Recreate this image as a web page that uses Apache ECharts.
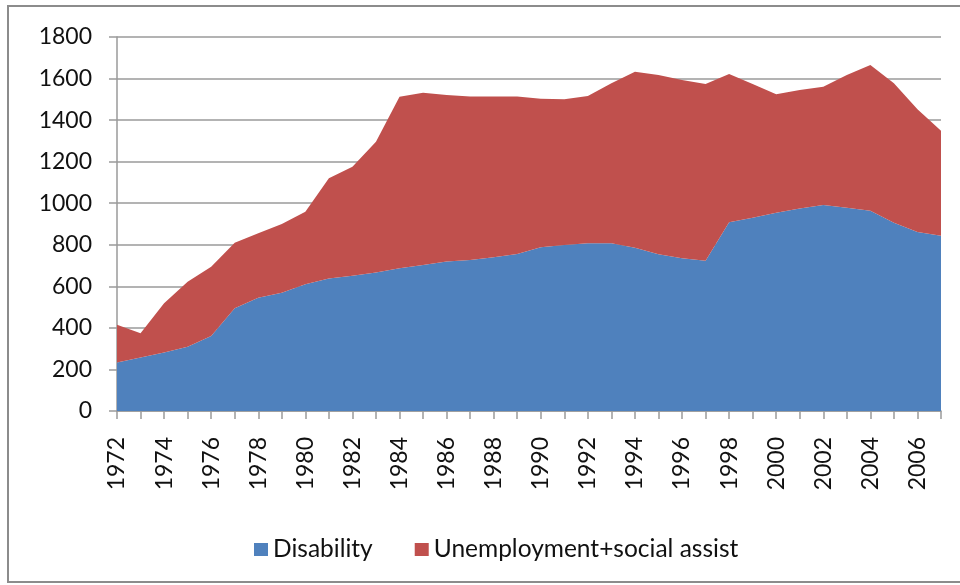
<!DOCTYPE html>
<html>
<head>
<meta charset="utf-8">
<script src="https://cdn.jsdelivr.net/npm/echarts@6/dist/echarts.min.js"></script>
<style>
  html, body { margin: 0; padding: 0; background: #ffffff; }
  #chart { width: 960px; height: 585px; }
</style>
</head>
<body>
<div id="chart"></div>
<script>
// Years on the horizontal axis
const years = [
  '1972','1973','1974','1975','1976','1977','1978','1979','1980','1981',
  '1982','1983','1984','1985','1986','1987','1988','1989','1990','1991',
  '1992','1993','1994','1995','1996','1997','1998','1999','2000','2001',
  '2002','2003','2004','2005','2006','2007'
];

// Disability recipients (thousands)
const disability = [
  233, 257, 282, 309, 361, 494, 545, 569, 610, 638,
  651, 666, 687, 703, 720, 727, 740, 756, 788, 799,
  807, 807, 786, 754, 735, 723, 908, 930, 954, 974,
  991, 978, 964, 906, 861, 844
];

// Unemployment + social assistance recipients (thousands), stacked on top
const unemploymentSocial = [
  182, 117, 236, 313, 333, 316, 310, 331, 349, 482,
  525, 630, 826, 829, 801, 787, 774, 758, 715, 701,
  709, 770, 847, 863, 858, 851, 714, 644, 571, 571,
  570, 639, 701, 671, 591, 505
];

const yTicks = { min: 0, max: 1800, interval: 200 };

const FONT = 'Lato';
const chart = echarts.init(document.getElementById('chart'), null, { renderer: 'canvas' });

chart.setOption({
  backgroundColor: '#ffffff',
  animation: false,
  textStyle: { fontFamily: FONT },
  graphic: [{
    type: 'rect',
    shape: { x: 8, y: 6, width: 1000, height: 576 },
    style: { fill: 'none', stroke: '#8c8c8c', lineWidth: 2 },
    silent: true,
    z: -1
  }],
  grid: { left: 117, right: 19, top: 37, bottom: 174 },
  legend: {
    left: 249,
    top: 532,
    icon: 'rect',
    itemWidth: 14,
    itemHeight: 13,
    itemGap: 42,
    itemTextGap: 5,
    textStyle: { fontFamily: FONT, fontSize: 24.5, color: '#111111' },
    data: ['Disability', 'Unemployment+social assist']
  },
  xAxis: {
    type: 'category',
    data: years,
    boundaryGap: false,
    axisLine: { show: true, lineStyle: { color: '#9a9a9a', width: 1.5 } },
    axisTick: { show: true, interval: 0, length: 8, lineStyle: { color: '#9a9a9a', width: 1.5 } },
    axisLabel: {
      interval: 1,
      rotate: 90,
      margin: 26,
      fontFamily: FONT,
      fontSize: 23,
      color: '#111111'
    },
    splitLine: { show: false }
  },
  yAxis: {
    type: 'value',
    min: yTicks.min,
    max: yTicks.max,
    interval: yTicks.interval,
    axisLine: { show: true, lineStyle: { color: '#9a9a9a', width: 1.5 } },
    axisTick: { show: true, length: 8, lineStyle: { color: '#9a9a9a', width: 1.5 } },
    axisLabel: {
      margin: 25,
      fontFamily: FONT,
      fontSize: 23,
      color: '#111111',
      formatter: (v) => String(v)
    },
    splitLine: { show: true, lineStyle: { color: '#9a9a9a', width: 1.5 } }
  },
  series: [
    {
      name: 'Disability',
      type: 'line',
      stack: 'total',
      data: disability,
      symbol: 'none',
      lineStyle: { width: 0 },
      itemStyle: { color: '#4F81BD' },
      areaStyle: { color: '#4F81BD', opacity: 1 }
    },
    {
      name: 'Unemployment+social assist',
      type: 'line',
      stack: 'total',
      data: unemploymentSocial,
      symbol: 'none',
      lineStyle: { width: 0 },
      itemStyle: { color: '#C0504D' },
      areaStyle: { color: '#C0504D', opacity: 1 }
    }
  ]
});
</script>
</body>
</html>
